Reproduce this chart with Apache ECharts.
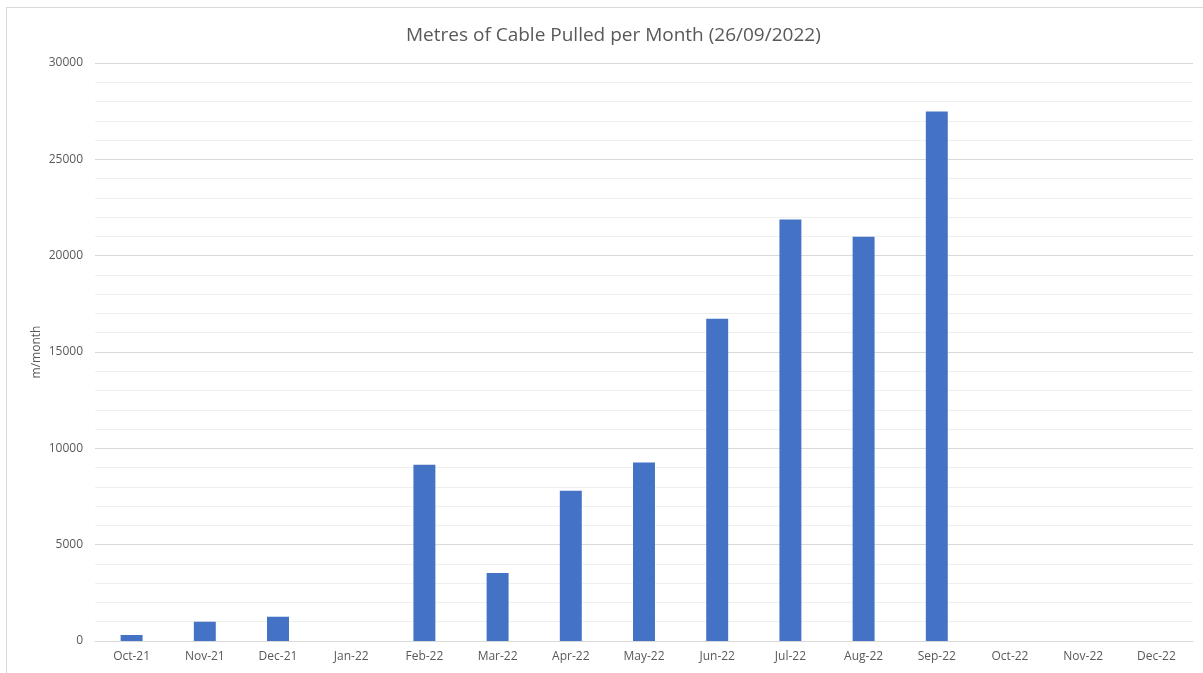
<!DOCTYPE html>
<html>
<head>
<meta charset="utf-8">
<script src="https://cdn.jsdelivr.net/npm/echarts@6/dist/echarts.min.js"></script>
<style>
	html, body {
		margin: 0;
		padding: 0;
		background: #fff;
	}
	#frame {
		position: absolute;
		left: 6px;
		top: 7px;
		width: 1203px;
		height: 680px;
		border: 1px solid #d9d9d9;
		box-sizing: border-box;
	}
	#chart {
		position: absolute;
		left: 0;
		top: 0;
		width: 1203px;
		height: 673px;
	}
</style>
</head>
<body>
<div id="frame"></div>
<div id="chart"></div>
<script>
	// months on the x axis
	var months = ['Oct-21', 'Nov-21', 'Dec-21', 'Jan-22', 'Feb-22', 'Mar-22', 'Apr-22', 'May-22',
		'Jun-22', 'Jul-22', 'Aug-22', 'Sep-22', 'Oct-22', 'Nov-22', 'Dec-22'];
	// metres pulled each month
	var metres = [310, 1000, 1260, 0, 9150, 3530, 7800, 9260, 16720, 21880, 20980, 27480, null, null, null];

	var textC = '#595959';
	var myChart = echarts.init(document.getElementById('chart'));
	myChart.setOption({
		animation: false,
		title: {
			text: 'Metres of Cable Pulled per Month (26/09/2022)',
			left: 401,
			top: 21,
			textStyle: {
				fontFamily: 'Open Sans',
				fontSize: 19,
				fontWeight: 'normal',
				color: textC
			}
		},
		grid: {
			left: 95,
			right: 10,
			top: 63,
			bottom: 32
		},
		xAxis: {
			type: 'category',
			data: months,
			axisLine: {
				lineStyle: { color: '#d9d9d9' }
			},
			axisTick: { show: false },
			axisLabel: {
				fontFamily: 'Open Sans',
				fontSize: 12,
				color: textC,
				margin: 10
			}
		},
		yAxis: {
			type: 'value',
			min: 0,
			max: 30000,
			interval: 5000,
			name: 'm/month',
			nameLocation: 'middle',
			nameGap: 52,
			nameMoveOverlap: false,
			nameTextStyle: {
				fontFamily: 'Open Sans',
				fontSize: 12,
				color: textC
			},
			axisLabel: {
				fontFamily: 'Open Sans',
				fontSize: 12,
				color: textC,
				margin: 12,
				formatter: function(v) {
					return String(v);
				}
			},
			axisLine: { show: false },
			axisTick: { show: false },
			splitLine: {
				lineStyle: { color: '#d9d9d9', width: 1 }
			},
			minorTick: { show: false, splitNumber: 5 },
			minorSplitLine: {
				show: true,
				lineStyle: { color: '#efefef', width: 1 }
			}
		},
		series: [{
			type: 'bar',
			data: metres,
			barWidth: '30%',
			itemStyle: { color: '#4472c4' }
		}]
	});
</script>
</body>
</html>
